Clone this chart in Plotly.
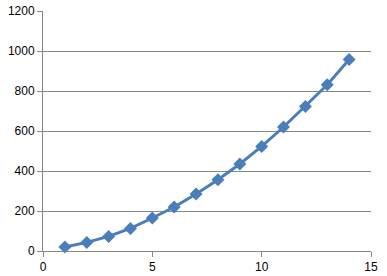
import plotly.graph_objects as go

x_vals = [1, 2, 3, 4, 5, 6, 7, 8, 9, 10, 11, 12, 13, 14]
y_vals = [20, 43, 73, 113, 165, 220, 285, 356, 435, 523, 620, 723, 831, 957]
x_ticks = [0, 5, 10, 15]
y_ticks = [0, 200, 400, 600, 800, 1000, 1200]

fig = go.Figure()
fig.add_trace(go.Scatter(
    x=x_vals, y=y_vals, mode="lines+markers",
    line=dict(color="#4A7EBB", width=3),
    marker=dict(symbol="diamond", size=10, color="#4A7EBB"),
    showlegend=False, cliponaxis=False,
))

axis_col = "#868686"
fig.update_layout(
    width=387, height=276,
    margin=dict(l=43, r=15.5, t=11, b=25, pad=0),
    paper_bgcolor="white", plot_bgcolor="white",
    font=dict(family="Liberation Sans", size=12, color="black"),
    xaxis=dict(range=[0, 15], tickvals=x_ticks, showgrid=False, zeroline=False,
               showline=True, linecolor=axis_col, linewidth=1, automargin=False,
               ticks="outside", ticklen=5, tickcolor=axis_col),
    yaxis=dict(range=[0, 1200], tickvals=y_ticks, showgrid=True, gridcolor=axis_col,
               gridwidth=1, zeroline=False, showline=True, linecolor=axis_col,
               linewidth=1, automargin=False, ticks="outside", ticklen=5,
               tickcolor=axis_col),
)

fig.write_html("out.html")
